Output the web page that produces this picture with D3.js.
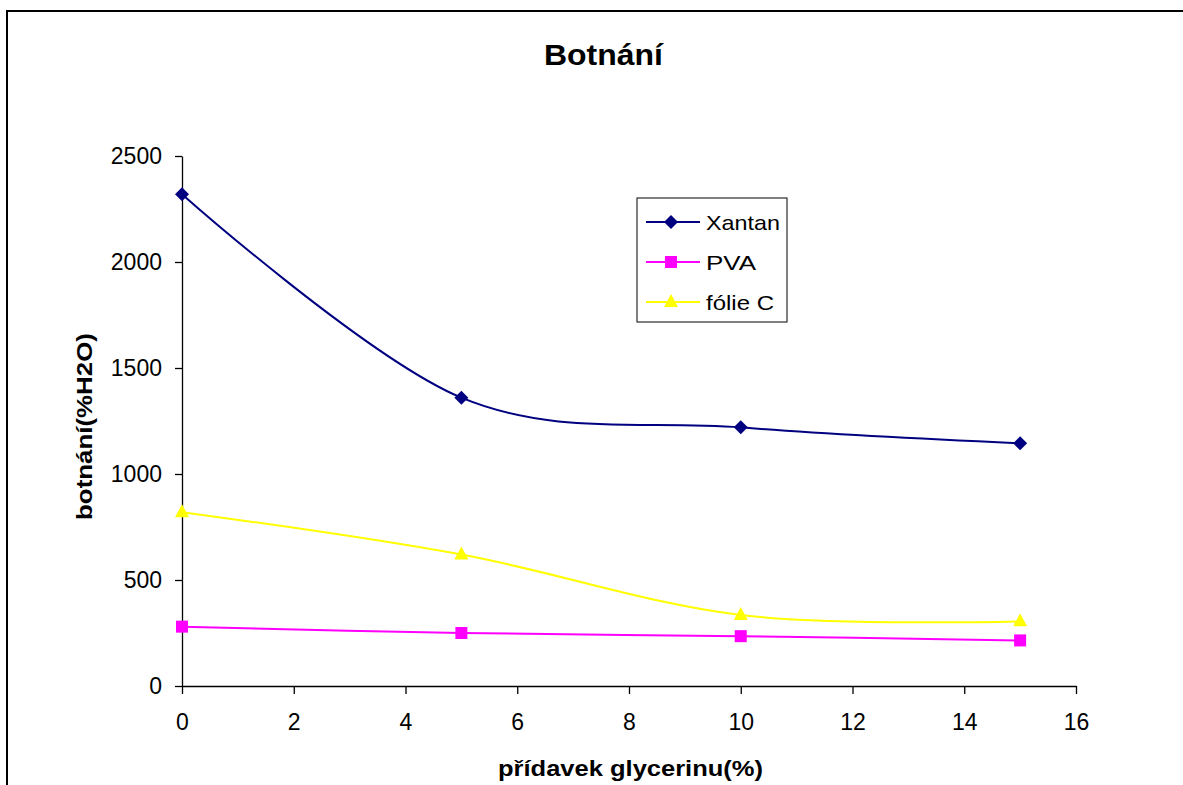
<!DOCTYPE html>
<html><head><meta charset="utf-8">
<script src="https://cdn.jsdelivr.net/npm/d3@7"></script>
<style>body{margin:0;background:#fff}svg{display:block;font-family:"Liberation Sans",Arial,sans-serif}</style>
</head><body>
<script>
const xValues = [0, 5, 10, 15];
const xantan = [2320, 1360, 1220, 1145];
const pva = [280, 250, 235, 215];
const folieC = [820, 620, 335, 305];
const seriesNames = ["Xantan", "PVA", "fólie C"];
const seriesColors = ["#000080", "#FF00FF", "#FFFF00"];
const xTicks = [0, 2, 4, 6, 8, 10, 12, 14, 16];
const yTicks = [0, 500, 1000, 1500, 2000, 2500];

const W = 1183, H = 785;
const svg = d3.select("body").append("svg").attr("width", W).attr("height", H);
svg.append("rect").attr("x", 7).attr("y", 11).attr("width", W + 10).attr("height", H + 10)
  .attr("fill", "#fff").attr("stroke", "#000").attr("stroke-width", 2);

const x = d3.scaleLinear().domain([0, 16]).range([182, 1076]);
const y = d3.scaleLinear().domain([0, 2500]).range([686, 156]);

const xAxis = svg.append("g").attr("transform", "translate(0,686)")
  .call(d3.axisBottom(x).tickValues(xTicks).tickSize(8).tickSizeOuter(0).tickFormat(d3.format("d")));
const yAxis = svg.append("g").attr("transform", "translate(182,0)")
  .call(d3.axisLeft(y).tickValues(yTicks).tickSize(7).tickSizeOuter(0).tickFormat(d3.format("d")));
[xAxis, yAxis].forEach(g => {
  g.select(".domain").attr("stroke", "#000").attr("stroke-width", 1.3);
  g.selectAll(".tick line").attr("stroke", "#000").attr("stroke-width", 1.3);
  g.selectAll(".tick text").attr("font-size", 23).attr("fill", "#000")
    .attr("font-family", "Liberation Sans, Arial, sans-serif");
});
xAxis.selectAll(".tick text").attr("y", 44).attr("dy", 0);
yAxis.selectAll(".tick text").attr("x", -20);

const data = [xantan, pva, folieC];
const line = d3.line().x((d, i) => x(xValues[i])).y(d => y(d)).curve(d3.curveCardinal.tension(0));

function marker(g, kind, color, cx, cy) {
  if (kind === 0) g.append("path").attr("d", `M${cx},${cy-7}L${cx+7},${cy}L${cx},${cy+7}L${cx-7},${cy}Z`).attr("fill", color);
  else if (kind === 1) g.append("rect").attr("x", cx-6).attr("y", cy-6).attr("width", 12).attr("height", 12).attr("fill", color);
  else g.append("path").attr("d", `M${cx},${cy-8}L${cx+7},${cy+5}L${cx-7},${cy+5}Z`).attr("fill", color);
}

data.forEach((vals, s) => {
  svg.append("path").datum(vals).attr("d", line).attr("fill", "none")
    .attr("stroke", seriesColors[s]).attr("stroke-width", 2);
  const g = svg.append("g");
  vals.forEach((v, i) => marker(g, s, seriesColors[s], x(xValues[i]), y(v)));
});

// legend
const legendWidths = [74, 50, 68];
const lg = svg.append("g");
lg.append("rect").attr("x", 637).attr("y", 198).attr("width", 150).attr("height", 124)
  .attr("fill", "#fff").attr("stroke", "#000").attr("stroke-width", 1);
seriesNames.forEach((n, i) => {
  const yy = 222 + i * 40;
  lg.append("line").attr("x1", 646).attr("x2", 700).attr("y1", yy).attr("y2", yy)
    .attr("stroke", seriesColors[i]).attr("stroke-width", 2);
  marker(lg, i, seriesColors[i], 671, yy);
  lg.append("text").attr("x", 706).attr("y", yy + 8).attr("font-size", 21)
    .attr("textLength", legendWidths[i]).attr("lengthAdjust", "spacingAndGlyphs").text(n);
});

svg.append("text").attr("x", 544).attr("y", 65)
  .attr("font-size", 30).attr("font-weight", "bold")
  .attr("textLength", 119).attr("lengthAdjust", "spacingAndGlyphs").text("Botnání");
svg.append("text").attr("x", 498).attr("y", 776)
  .attr("font-size", 22).attr("font-weight", "bold")
  .attr("textLength", 265).attr("lengthAdjust", "spacingAndGlyphs").text("přídavek glycerinu(%)");
svg.append("text").attr("transform", "translate(92,520) rotate(-90)")
  .attr("font-size", 22).attr("font-weight", "bold")
  .attr("textLength", 187).attr("lengthAdjust", "spacingAndGlyphs").text("botnání(%H2O)");
</script>
</body></html>
